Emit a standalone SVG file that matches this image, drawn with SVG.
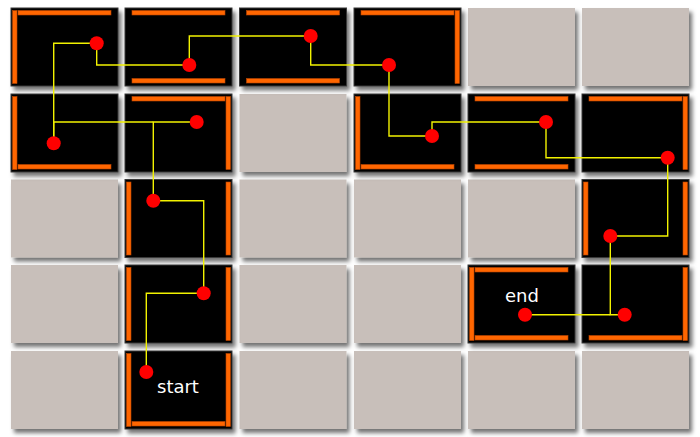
<svg xmlns="http://www.w3.org/2000/svg" width="700" height="437" viewBox="0 0 700 437">
<defs>
<filter id="sh" x="-10%" y="-10%" width="130%" height="130%">
<feDropShadow dx="3" dy="4" stdDeviation="2" flood-color="#000" flood-opacity="0.55"/>
</filter>
</defs>
<style>
.g{fill:#c8bfba;filter:url(#sh)}
.b{fill:#000;stroke:#3a3a3a;stroke-width:1;filter:url(#sh)}
.w{fill:#ff6600;stroke:#b84400;stroke-width:0.6}
.d{fill:#ff0000}
.c{fill:none;stroke:#f2f200;stroke-width:1.4}
.t{fill:#ffffff;font-family:"DejaVu Sans",sans-serif;font-size:18px}
</style>
<rect width="700" height="437" fill="#ffffff"/>
<!-- gray cells -->
<g id="empty">
<rect class="g" x="468" y="8" width="107" height="78"/>
<rect class="g" x="582" y="8" width="107" height="78"/>
<rect class="g" x="239.5" y="94" width="107" height="78"/>
<rect class="g" x="11" y="179.5" width="107" height="78"/>
<rect class="g" x="239.5" y="179.5" width="107" height="78"/>
<rect class="g" x="354" y="179.5" width="107" height="78"/>
<rect class="g" x="468" y="179.5" width="107" height="78"/>
<rect class="g" x="11" y="265" width="107" height="78"/>
<rect class="g" x="239.5" y="265" width="107" height="78"/>
<rect class="g" x="354" y="265" width="107" height="78"/>
<rect class="g" x="11" y="351" width="107" height="78"/>
<rect class="g" x="239.5" y="351" width="107" height="78"/>
<rect class="g" x="354" y="351" width="107" height="78"/>
<rect class="g" x="468" y="351" width="107" height="78"/>
<rect class="g" x="582" y="351" width="107" height="78"/>
</g>
<g id="c00" transform="translate(11,8)">
<rect class="b" width="107" height="78"/>
<rect class="w" x="7" y="2.5" width="93" height="4.5"/>
<rect class="w" x="1.5" y="2.5" width="4.5" height="73"/>
</g>
<g id="c10" transform="translate(125,8)">
<rect class="b" width="107" height="78"/>
<rect class="w" x="7" y="2.5" width="93" height="4.5"/>
<rect class="w" x="7" y="70.5" width="93" height="4.5"/>
</g>
<g id="c20" transform="translate(239.5,8)">
<rect class="b" width="107" height="78"/>
<rect class="w" x="7" y="2.5" width="93" height="4.5"/>
<rect class="w" x="7" y="70.5" width="93" height="4.5"/>
</g>
<g id="c30" transform="translate(354,8)">
<rect class="b" width="107" height="78"/>
<rect class="w" x="7" y="2.5" width="93" height="4.5"/>
<rect class="w" x="101" y="2.5" width="4.5" height="73"/>
</g>
<g id="c01" transform="translate(11,94)">
<rect class="b" width="107" height="78"/>
<rect class="w" x="1.5" y="2.5" width="4.5" height="73"/>
<rect class="w" x="7" y="70.5" width="93" height="4.5"/>
</g>
<g id="c11" transform="translate(125,94)">
<rect class="b" width="107" height="78"/>
<rect class="w" x="7" y="2.5" width="93" height="4.5"/>
<rect class="w" x="101" y="2.5" width="4.5" height="73"/>
</g>
<g id="c31" transform="translate(354,94)">
<rect class="b" width="107" height="78"/>
<rect class="w" x="1.5" y="2.5" width="4.5" height="73"/>
<rect class="w" x="7" y="70.5" width="93" height="4.5"/>
</g>
<g id="c41" transform="translate(468,94)">
<rect class="b" width="107" height="78"/>
<rect class="w" x="7" y="2.5" width="93" height="4.5"/>
<rect class="w" x="7" y="70.5" width="93" height="4.5"/>
</g>
<g id="c51" transform="translate(582,94)">
<rect class="b" width="107" height="78"/>
<rect class="w" x="7" y="2.5" width="93" height="4.5"/>
<rect class="w" x="101" y="2.5" width="4.5" height="73"/>
</g>
<g id="c12" transform="translate(125,179.5)">
<rect class="b" width="107" height="78"/>
<rect class="w" x="1.5" y="2.5" width="4.5" height="73"/>
<rect class="w" x="101" y="2.5" width="4.5" height="73"/>
</g>
<g id="c52" transform="translate(582,179.5)">
<rect class="b" width="107" height="78"/>
<rect class="w" x="1.5" y="2.5" width="4.5" height="73"/>
<rect class="w" x="101" y="2.5" width="4.5" height="73"/>
</g>
<g id="c13" transform="translate(125,265)">
<rect class="b" width="107" height="78"/>
<rect class="w" x="1.5" y="2.5" width="4.5" height="73"/>
<rect class="w" x="101" y="2.5" width="4.5" height="73"/>
</g>
<g id="c43" transform="translate(468,265)">
<rect class="b" width="107" height="78"/>
<rect class="w" x="1.5" y="2.5" width="4.5" height="73"/>
<rect class="w" x="7" y="2.5" width="93" height="4.5"/>
<rect class="w" x="7" y="70.5" width="93" height="4.5"/>
</g>
<g id="c53" transform="translate(582,265)">
<rect class="b" width="107" height="78"/>
<rect class="w" x="101" y="2.5" width="4.5" height="73"/>
<rect class="w" x="7" y="70.5" width="93" height="4.5"/>
</g>
<g id="c14" transform="translate(125,351)">
<rect class="b" width="107" height="78"/>
<rect class="w" x="1.5" y="2.5" width="4.5" height="73"/>
<rect class="w" x="101" y="2.5" width="4.5" height="73"/>
<rect class="w" x="7" y="70.5" width="93" height="4.5"/>
</g>
<g id="connectors">
<path class="c" d="M146.3,372 V293.3 H203.7"/>
<path class="c" d="M203.7,293.3 V200.7 H153.3"/>
<path class="c" d="M153.3,200.7 V122 H196.7"/>
<path class="c" d="M53.7,143.3 V122 H153.3"/>
<path class="c" d="M53.7,143.3 V43.3 H96.7"/>
<path class="c" d="M96.7,43.3 V65 H189.3"/>
<path class="c" d="M189.3,65 V36 H310.7"/>
<path class="c" d="M310.7,36 V65 H389"/>
<path class="c" d="M389,65 V136 H432"/>
<path class="c" d="M432,136 V122 H546"/>
<path class="c" d="M546,122 V157.7 H667.7"/>
<path class="c" d="M667.7,157.7 V236 H610.3"/>
<path class="c" d="M610.3,236 V314.7 H624.7"/>
<path class="c" d="M610.3,314.7 H525"/>
</g>
<g id="dots">
<circle class="d" cx="96.7" cy="43.3" r="7"/>
<circle class="d" cx="189.3" cy="65" r="7"/>
<circle class="d" cx="310.7" cy="36" r="7"/>
<circle class="d" cx="389" cy="65" r="7"/>
<circle class="d" cx="53.7" cy="143.3" r="7"/>
<circle class="d" cx="196.7" cy="122" r="7"/>
<circle class="d" cx="432" cy="136" r="7"/>
<circle class="d" cx="546" cy="122" r="7"/>
<circle class="d" cx="667.7" cy="157.7" r="7"/>
<circle class="d" cx="153.3" cy="200.7" r="7"/>
<circle class="d" cx="610.3" cy="236" r="7"/>
<circle class="d" cx="203.7" cy="293.3" r="7"/>
<circle class="d" cx="525" cy="314.7" r="7"/>
<circle class="d" cx="624.7" cy="314.7" r="7"/>
<circle class="d" cx="146.3" cy="372" r="7"/>
</g>
<g id="labels">
<text class="t" x="157" y="393">start</text>
<text class="t" x="505" y="302">end</text>
</g>
</svg>
